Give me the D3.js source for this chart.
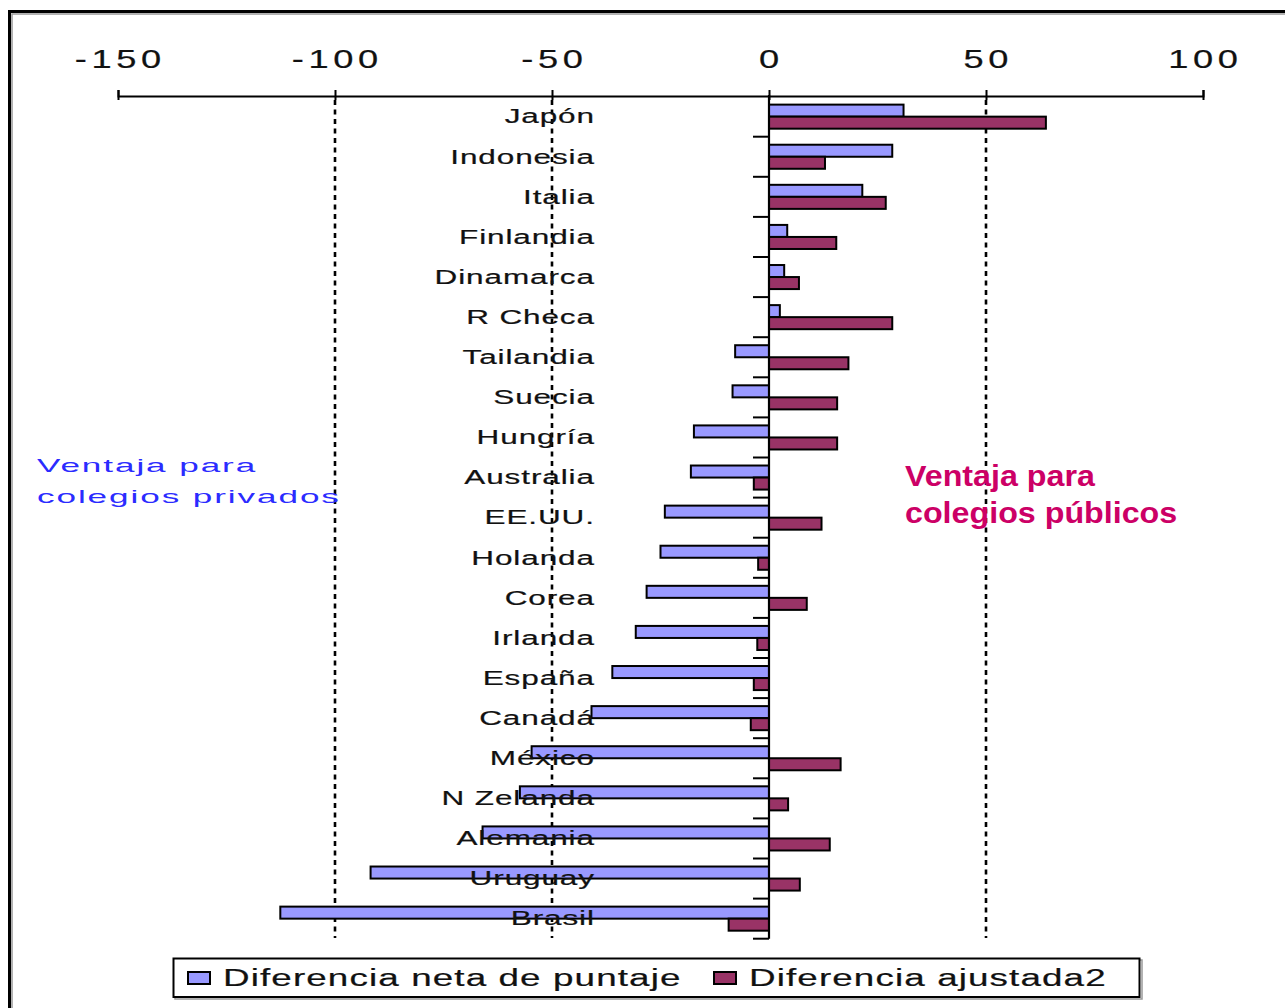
<!DOCTYPE html>
<html>
<head>
<meta charset="utf-8">
<script src="https://cdn.jsdelivr.net/npm/d3@7"></script>
<style>
  html, body { margin: 0; padding: 0; background: #fff; }
  svg { display: block; }
  text { font-family: "Liberation Sans", Arial, sans-serif; }
</style>
</head>
<body>
<svg id="chart" width="1285" height="1008"></svg>
<script>
const categories = ["Japón","Indonesia","Italia","Finlandia","Dinamarca","R Checa","Tailandia","Suecia","Hungría","Australia","EE.UU.","Holanda","Corea","Irlanda","España","Canadá","México","N Zelanda","Alemania","Uruguay","Brasil"];
const netaValues = [31, 28.4, 21.5, 4.2, 3.5, 2.5, -7.8, -8.4, -17.3, -18, -24, -25, -28.2, -30.7, -36.1, -40.9, -54.7, -57.4, -66, -91.8, -112.6];
const ajustadaValues = [63.8, 12.9, 26.9, 15.5, 6.9, 28.4, 18.3, 15.7, 15.7, -3.5, 12.1, -2.5, 8.7, -2.7, -3.5, -4.2, 16.5, 4.4, 14, 7.1, -9.3];
const seriesNames = ["Diferencia neta de puntaje", "Diferencia ajustada2"];
const seriesColors = ["#9999ff", "#993366"];
const xTicks = [-150, -100, -50, 0, 50, 100];
const gridValues = [-100, -50, 50];
const annotLeft = ["Ventaja para", "colegios privados"];
const annotRight = ["Ventaja para", "colegios públicos"];

const svg = d3.select("#chart");

// frame
svg.append("path")
  .attr("d", "M9.5,1010 V11.5 H1290")
  .attr("fill", "none").attr("stroke", "#000").attr("stroke-width", 3);
svg.append("path")
  .attr("d", "M12,1010 V14 H1290")
  .attr("fill", "none").attr("stroke", "#999").attr("stroke-width", 1.5);

const x = d3.scaleLinear().domain([-150, 100]).range([118, 1203]);
const y = d3.scaleBand().domain(categories).range([96.6, 938.7]).paddingInner(0.4).paddingOuter(0.2);
const ySub = d3.scaleBand().domain([0, 1]).range([0, y.bandwidth()]);

// gridlines
svg.append("g").selectAll("line").data(gridValues).join("line")
  .attr("x1", d => x(d)).attr("x2", d => x(d))
  .attr("y1", 100).attr("y2", 938)
  .attr("stroke", "#000").attr("stroke-width", 2.6)
  .attr("stroke-dasharray", "5,4.5");

// bars
const series = [netaValues, ajustadaValues];
series.forEach((vals, si) => {
  svg.append("g").selectAll("rect").data(categories).join("rect")
    .attr("x", (c, i) => x(Math.min(0, vals[i])))
    .attr("width", (c, i) => Math.abs(x(vals[i]) - x(0)))
    .attr("y", c => y(c) + ySub(si))
    .attr("height", ySub.bandwidth())
    .attr("fill", seriesColors[si])
    .attr("stroke", "#000").attr("stroke-width", 2);
});

// category labels (drawn over bars, as in the reference)
const lblG = svg.append("g");
categories.forEach(c => {
  lblG.append("text")
    .attr("transform", `translate(594,${y(c) + y.bandwidth() / 2 + 6.8}) scale(1.5,1)`)
    .attr("x", 0.6)
    .attr("text-anchor", "end")
    .attr("font-size", 21)
    .attr("letter-spacing", 0.6)
    .attr("fill", "#111")
    .attr("stroke", "#111").attr("stroke-width", 0.2)
    .text(c);
});

// zero axis
svg.append("line")
  .attr("x1", x(0)).attr("x2", x(0)).attr("y1", 95).attr("y2", 938.7)
  .attr("stroke", "#000").attr("stroke-width", 2.2);
const boundaries = categories.map(c => y(c) - y.step() * 0.2).concat([938.7]).slice(1);
svg.append("g").selectAll("line").data(boundaries).join("line")
  .attr("x1", x(0) - 16).attr("x2", x(0))
  .attr("y1", d => d).attr("y2", d => d)
  .attr("stroke", "#000").attr("stroke-width", 2);

// top axis
const xAxis = d3.axisTop(x).tickValues(xTicks).tickSizeInner(6).tickSizeOuter(6).tickFormat("");
const ax = svg.append("g").attr("transform", "translate(0,96)").call(xAxis);
ax.select(".domain").attr("stroke-width", 2);
ax.selectAll(".tick line").attr("y1", 4).attr("y2", -6).attr("stroke-width", 2);
const tl = svg.append("g");
xTicks.forEach(t => {
  tl.append("text")
    .attr("transform", `translate(${x(t)},68) scale(1.45,1)`)
    .attr("x", 1.6)
    .attr("text-anchor", "middle")
    .attr("font-size", 25)
    .attr("letter-spacing", 3.2)
    .attr("fill", "#111")
    .attr("stroke", "#111").attr("stroke-width", 0.2)
    .text(t);
});

// annotations
annotLeft.forEach((t, i) => {
  svg.append("text")
    .attr("transform", `translate(37,${471.5 + i * 31}) scale(1.9,1)`)
    .attr("font-size", 18.5)
    .attr("letter-spacing", 1)
    .attr("fill", "#2b2bff")
    .text(t);
});
annotRight.forEach((t, i) => {
  svg.append("text")
    .attr("transform", `translate(905,${485.5 + i * 37.5}) scale(1.075,1)`)
    .attr("font-size", 30)
    .attr("font-weight", "bold")
    .attr("fill", "#cc0066")
    .text(t);
});

// legend
const lg = svg.append("g");
lg.append("rect").attr("x", 175).attr("y", 960).attr("width", 967).attr("height", 39)
  .attr("fill", "none").attr("stroke", "#999").attr("stroke-width", 1.5);
lg.append("rect").attr("x", 173.5).attr("y", 958.5).attr("width", 966).attr("height", 38.5)
  .attr("fill", "#fff").attr("stroke", "#000").attr("stroke-width", 2);
const legendX = [188, 714];
seriesNames.forEach((n, i) => {
  lg.append("rect").attr("x", legendX[i]).attr("y", 972).attr("width", 22).attr("height", 12)
    .attr("fill", seriesColors[i]).attr("stroke", "#000").attr("stroke-width", 2);
  lg.append("text")
    .attr("transform", `translate(${legendX[i] + 35},986) scale(1.6,1)`)
    .attr("font-size", 23)
    .attr("letter-spacing", 0.7)
    .attr("fill", "#111")
    .attr("stroke", "#111").attr("stroke-width", 0.2)
    .text(n);
});
</script>
</body>
</html>
